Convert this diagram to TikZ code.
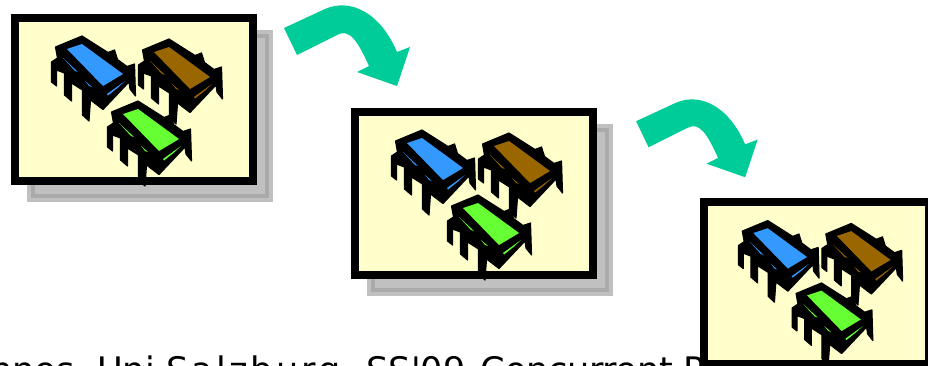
\documentclass[tikz,border=0pt]{standalone}
\usepackage{fontspec}
\setmainfont[Ligatures=TeXOff]{DejaVu Sans}
\definecolor{panelfill}{RGB}{255,255,204}
\definecolor{shadowfill}{RGB}{192,192,192}
\definecolor{shadowedge}{RGB}{170,170,170}
\definecolor{arrowgreen}{RGB}{0,204,153}
\definecolor{chipblue}{RGB}{51,153,255}
\definecolor{chipbrown}{RGB}{153,102,0}
\definecolor{chipgreen}{RGB}{102,255,51}
\tikzset{
  panelbox/.style={draw=black, fill=panelfill, line width=6.8pt},
  shadowbox/.style={fill=shadowfill},
  shadowline/.style={draw=shadowedge, line width=3pt},
  pics/chip/.style={code={
    % body and legs, in black
    \filldraw [black, line width=1pt, line join=round] (55.5,47) -- (82,36) -- (108,52.5) -- (114.5,50) -- (117.5,59.5) -- (127,66.5) -- (134.5,64)
      -- (135.5,96) -- (130,89) -- (129,82) -- (103,109.5) -- (90.5,100) -- (89,121) -- (82.5,115)
      -- (82.5,90) -- (71.5,83) -- (71.5,101) -- (64.5,95) -- (64.5,73) -- (56.5,70) -- (56.5,86) -- (51.5,82)
      -- (51.5,62) -- (57.5,58) -- cycle;
    % top face
    \fill [#1] (67,49) -- (82,44) -- (123,74) -- (103,86) -- cycle;
    % small highlights on the side faces
    \fill [#1] (107,94) -- (125,81) -- (118,87.5) -- (108,95.5) -- cycle;
    \fill [#1] (63,58) -- (78,72) -- (75,71) -- cycle;
    \fill [#1] (85,81) -- (92,87) -- (89,86) -- cycle;
  }},
  pics/bentarrow/.style={code={
    \fill [arrowgreen] (284,28) -- (325,9) .. controls (350,-2) and (380,12) .. (397,52) -- (410,47) -- (397,86)
      -- (357,72) -- (369,66) .. controls (358,42) and (350,28) .. (337,35) -- (297,55) -- cycle;
  }}
}
\begin{document}
\begin{tikzpicture}[x=0.03cm, y=-0.03cm]
  \useasboundingbox (0,0) rectangle (928,366);
  \clip (0,0) rectangle (928,366);
  % footer line, cut off by the page
  \node [anchor=base west, inner sep=0pt, font=\fontsize{30}{30}\selectfont] (footer) at (-10,382) {nnes, Uni {\addfontfeature{LetterSpace=9}Salzburg,} SS'09,\hspace{-6pt} {\addfontfeature{LetterSpace=-1}Concurrent} P};
  % first panel
  \fill [shadowbox] (27,30) rectangle (273,202);
  \draw [shadowline] (33,36) rectangle (267,196);
  \filldraw [panelbox] (15,18) rectangle (253,181);
  \pic at (0,0) {chip=chipblue};
  \pic at (87,3) {chip=chipbrown};
  \pic at (56,65) {chip=chipgreen};
  % second panel
  \fill [shadowbox] (367,124) rectangle (613,296);
  \draw [shadowline] (373,130) rectangle (607,290);
  \filldraw [panelbox] (355,112) rectangle (593,275);
  \pic at (340,94) {chip=chipblue};
  \pic at (427,97) {chip=chipbrown};
  \pic at (396,159) {chip=chipgreen};
  % third panel
  \filldraw [panelbox] (704,202) rectangle (929,364);
  \begin{scope}[shift={(689,186)}, scale=0.96, transform shape]
    \pic at (0,0) {chip=chipblue};
    \pic at (87,3) {chip=chipbrown};
    \pic at (56,65) {chip=chipgreen};
  \end{scope}
  % bent arrows
  \pic at (0,0) {bentarrow};
  \pic at (362,94.2) [scale=0.965] {bentarrow};
\end{tikzpicture}
\end{document}
